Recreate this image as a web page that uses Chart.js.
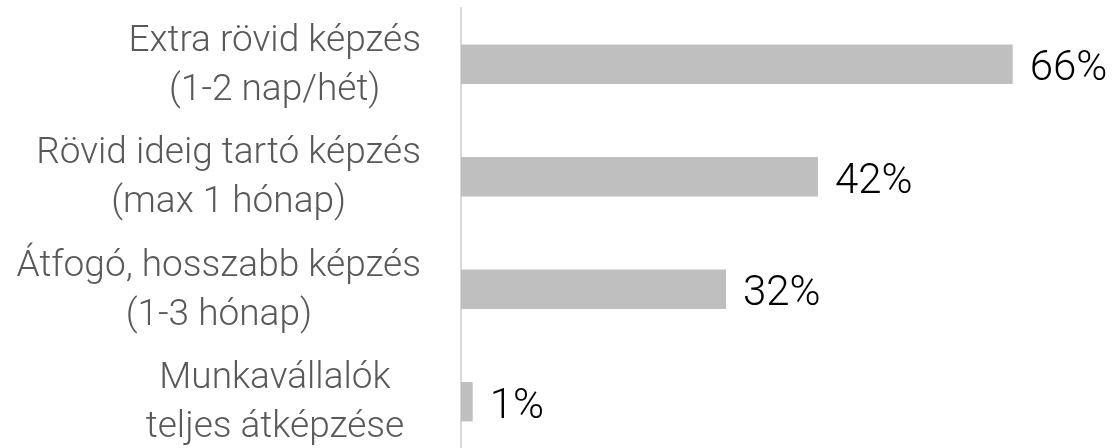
<!DOCTYPE html>
<html>
<head>
<meta charset="utf-8">
<script src="https://cdn.jsdelivr.net/npm/chart.js@4/dist/chart.umd.min.js"></script>
<style>
  html, body { margin: 0; padding: 0; background: #ffffff; overflow: hidden; width: 1113px; height: 448px; }
  #wrap { position: relative; width: 1113px; height: 458px; }
</style>
</head>
<body>
<div id="wrap"><canvas id="c"></canvas></div>
<script>
// Categories (each label split into lines)
const categories = [
  ["Extra rövid képzés", "(1-2 nap/hét)"],
  ["Rövid ideig tartó képzés", "(max 1 hónap)"],
  ["Átfogó, hosszabb képzés", "(1-3 hónap)"],
  ["Munkavállalók", "teljes átképzése"]
];
// Values in percent (bar lengths)
const values = [66, 42.7, 31.7, 1.4];
// Value labels as printed in the picture
const valueLabels = ["66%", "42%", "32%", "1%"];
const xMin = 0;
const xMax = 78;

const FONT = "Roboto, 'Noto Sans', sans-serif";

const labelPlugin = {
  id: 'customLabels',
  afterDatasetsDraw(chart) {
    const ctx = chart.ctx;
    const meta = chart.getDatasetMeta(0);
    ctx.save();
    // value labels
    ctx.font = "300 42px " + FONT;
    ctx.fillStyle = "#000000";
    ctx.textAlign = "left";
    ctx.textBaseline = "alphabetic";
    meta.data.forEach((bar, i) => {
      ctx.fillText(valueLabels[i], bar.x + 17, bar.y + 16);
    });
    // category labels: centred lines, block kept left of the axis
    const yScale = chart.scales.y;
    const rightEdge = chart.chartArea.left - 40;
    const centreX = chart.chartArea.left - 186;
    const lineH = 49;
    ctx.font = "300 37px " + FONT;
    ctx.fillStyle = "#595959";
    ctx.textAlign = "center";
    categories.forEach((lines, i) => {
      const cy = yScale.getPixelForTick(i);
      let w = 0;
      lines.forEach(l => { w = Math.max(w, ctx.measureText(l).width); });
      const cx = Math.min(centreX, rightEdge - w / 2);
      lines.forEach((l, j) => {
        const by = cy + (j - (lines.length - 1) / 2) * lineH + 11;
        ctx.fillText(l, cx, by);
      });
    });
    ctx.restore();
  }
};

function draw() {
  new Chart(document.getElementById('c'), {
    type: 'bar',
    data: {
      labels: categories.map(c => c.join(' ')),
      datasets: [{
        data: values,
        backgroundColor: '#bfbfbf',
        borderWidth: 0,
        categoryPercentage: 1.0,
        barPercentage: 0.35
      }]
    },
    options: {
      indexAxis: 'y',
      responsive: true,
      maintainAspectRatio: false,
      animation: false,
      layout: { padding: { top: 8, right: 0, bottom: 0, left: 0 } },
      plugins: {
        legend: { display: false },
        tooltip: { enabled: false },
        title: { display: false }
      },
      scales: {
        x: {
          display: false,
          min: xMin,
          max: xMax
        },
        y: {
          type: 'category',
          grid: { display: false, drawTicks: false },
          border: { display: true, color: '#d9d9d9', width: 2 },
          ticks: { display: false },
          afterFit(scale) { scale.width = 461; }
        }
      }
    },
    plugins: [labelPlugin]
  });
}

if (document.fonts && document.fonts.load) {
  Promise.all([
    document.fonts.load("300 37px Roboto"),
    document.fonts.load("300 42px Roboto")
  ]).then(draw, draw);
} else {
  draw();
}
</script>
</body>
</html>
